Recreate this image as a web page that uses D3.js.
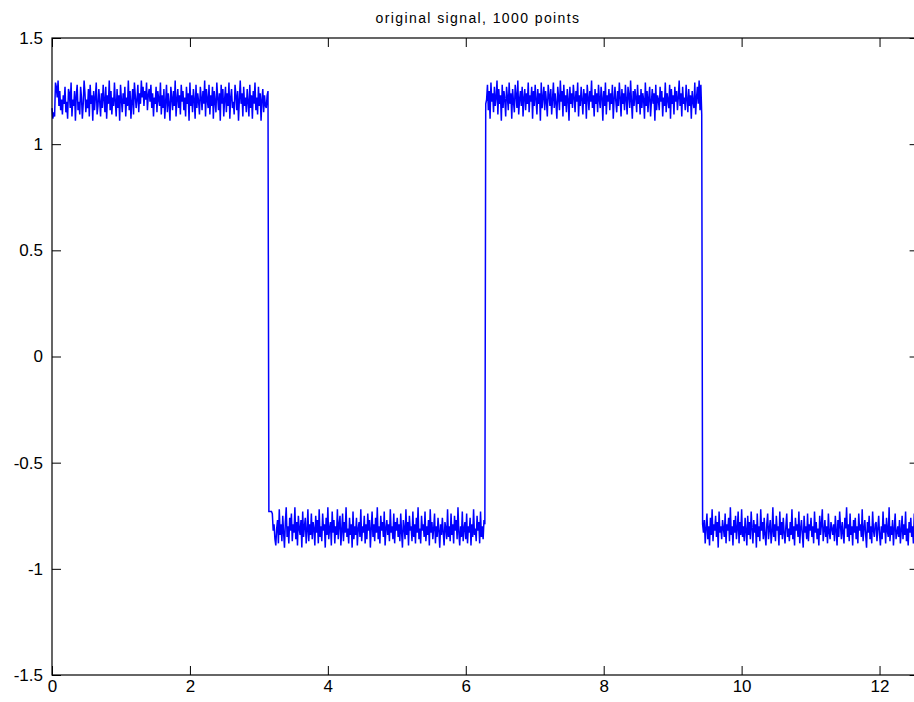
<!DOCTYPE html>
<html>
<head>
  <meta charset="utf-8">
  <title>original signal</title>
  <style>
    body { margin: 0; background: #fff; }
    .tick text { font-family: "Liberation Sans", Arial, sans-serif; font-size: 17px; fill: #000; }
    .tick line { stroke: #000; }
    .title { font-family: "Liberation Sans", Arial, sans-serif; font-size: 14px; letter-spacing: 1.4px; }
  </style>
</head>
<body>
  <svg width="914" height="702"></svg>
  <script src="https://cdnjs.cloudflare.com/ajax/libs/d3/7.8.5/d3.min.js"></script>
  <script>
    // 1000 samples over [0, 4*pi], four half periods of 250 samples each
    const xMax = 4 * Math.PI;

    const seg1 = [
      1.17,1.12,1.15,1.13,1.29,1.27,1.22,1.30,1.18,1.25,1.16,1.21,1.14,1.23,1.19,1.27,1.15,1.20,1.12,1.26,1.24,1.17,1.29,1.13,1.21,
      1.18,1.25,1.11,1.23,1.28,1.16,1.20,1.14,1.27,1.22,1.12,1.19,1.30,1.24,1.15,1.21,1.17,1.26,1.13,1.28,1.19,1.23,1.11,1.25,1.16,
      1.22,1.29,1.14,1.18,1.26,1.20,1.13,1.24,1.17,1.28,1.21,1.15,1.27,1.12,1.23,1.19,1.30,1.16,1.25,1.14,1.22,1.18,1.29,1.20,1.13,
      1.26,1.17,1.23,1.11,1.28,1.21,1.15,1.24,1.19,1.27,1.13,1.22,1.18,1.30,1.16,1.25,1.12,1.20,1.26,1.14,1.29,1.23,1.17,1.21,1.28,
      1.15,1.24,1.19,1.30,1.22,1.27,1.18,1.25,1.21,1.29,1.16,1.23,1.26,1.20,1.28,1.17,1.24,1.13,1.22,1.19,1.27,1.15,1.25,1.21,1.18,
      1.29,1.14,1.23,1.17,1.26,1.12,1.20,1.28,1.15,1.24,1.19,1.11,1.27,1.22,1.16,1.25,1.18,1.30,1.13,1.21,1.26,1.17,1.23,1.14,1.28,
      1.20,1.25,1.16,1.22,1.13,1.27,1.19,1.24,1.11,1.29,1.18,1.23,1.15,1.26,1.21,1.12,1.28,1.17,1.24,1.20,1.14,1.27,1.22,1.16,1.25,
      1.19,1.30,1.13,1.26,1.21,1.17,1.28,1.14,1.23,1.18,1.27,1.12,1.25,1.20,1.15,1.29,1.22,1.16,1.24,1.11,1.28,1.19,1.26,1.13,1.21,
      1.27,1.15,1.24,1.18,1.29,1.12,1.22,1.26,1.17,1.20,1.14,1.28,1.23,1.16,1.25,1.11,1.21,1.30,1.19,1.24,1.13,1.27,1.18,1.22,1.15,
      1.26,1.20,1.13,1.28,1.17,1.23,1.12,1.25,1.19,1.29,1.16,1.22,1.14,1.27,1.18,1.24,1.11,1.21,1.26,1.15,1.23,1.18,1.17,1.23,1.25
    ];
    const seg2 = [
      -0.73,-0.73,-0.73,-0.73,-0.74,-0.82,-0.79,-0.86,-0.89,-0.81,-0.77,-0.88,-0.72,-0.84,-0.79,-0.87,-0.75,-0.83,-0.90,-0.78,-0.71,-0.85,-0.80,-0.88,-0.76,
      -0.82,-0.74,-0.87,-0.79,-0.83,-0.71,-0.86,-0.78,-0.89,-0.75,-0.81,-0.84,-0.77,-0.90,-0.73,-0.85,-0.80,-0.76,-0.88,-0.82,-0.72,-0.87,-0.79,-0.84,-0.74,
      -0.86,-0.78,-0.81,-0.89,-0.75,-0.83,-0.77,-0.88,-0.72,-0.85,-0.80,-0.87,-0.74,-0.82,-0.79,-0.90,-0.76,-0.84,-0.71,-0.86,-0.81,-0.78,-0.89,-0.73,-0.83,
      -0.77,-0.88,-0.80,-0.84,-0.72,-0.86,-0.79,-0.75,-0.89,-0.82,-0.74,-0.87,-0.78,-0.83,-0.71,-0.85,-0.81,-0.88,-0.76,-0.84,-0.79,-0.90,-0.73,-0.86,-0.80,
      -0.84,-0.76,-0.89,-0.81,-0.78,-0.85,-0.72,-0.87,-0.80,-0.83,-0.75,-0.88,-0.79,-0.86,-0.74,-0.82,-0.77,-0.90,-0.81,-0.73,-0.85,-0.79,-0.87,-0.76,-0.83,
      -0.71,-0.86,-0.80,-0.88,-0.75,-0.82,-0.78,-0.85,-0.73,-0.89,-0.81,-0.77,-0.84,-0.79,-0.87,-0.72,-0.83,-0.80,-0.86,-0.74,-0.88,-0.78,-0.82,-0.76,-0.85,
      -0.79,-0.87,-0.74,-0.83,-0.90,-0.77,-0.81,-0.86,-0.72,-0.84,-0.78,-0.89,-0.75,-0.82,-0.80,-0.87,-0.73,-0.85,-0.79,-0.88,-0.76,-0.83,-0.71,-0.86,-0.81,
      -0.88,-0.75,-0.82,-0.79,-0.85,-0.73,-0.87,-0.80,-0.84,-0.77,-0.89,-0.72,-0.83,-0.78,-0.86,-0.81,-0.74,-0.88,-0.80,-0.85,-0.76,-0.82,-0.90,-0.79,-0.84,
      -0.76,-0.83,-0.89,-0.78,-0.81,-0.86,-0.72,-0.85,-0.80,-0.87,-0.74,-0.84,-0.79,-0.88,-0.75,-0.82,-0.77,-0.86,-0.71,-0.83,-0.89,-0.80,-0.85,-0.73,-0.87,
      -0.81,-0.78,-0.86,-0.74,-0.88,-0.80,-0.83,-0.76,-0.89,-0.79,-0.85,-0.72,-0.84,-0.81,-0.87,-0.75,-0.82,-0.78,-0.88,-0.73,-0.85,-0.80,-0.86,-0.77,-0.79
    ];
    const seg3 = [
      1.19,1.21,1.28,1.16,1.25,1.12,1.29,1.20,1.24,1.15,1.27,1.18,1.22,1.30,1.14,1.26,1.19,1.23,1.11,1.28,1.17,1.25,1.21,1.13,1.27,
      1.22,1.16,1.29,1.19,1.24,1.12,1.26,1.20,1.15,1.28,1.23,1.17,1.30,1.14,1.21,1.25,1.18,1.27,1.13,1.22,1.26,1.16,1.24,1.19,1.29,
      1.15,1.23,1.20,1.27,1.12,1.25,1.18,1.28,1.21,1.14,1.26,1.19,1.24,1.11,1.29,1.17,1.22,1.27,1.16,1.25,1.20,1.13,1.28,1.23,1.18,
      1.26,1.14,1.21,1.29,1.17,1.24,1.19,1.12,1.27,1.22,1.16,1.30,1.20,1.25,1.13,1.28,1.18,1.23,1.15,1.26,1.21,1.11,1.27,1.19,1.24,
      1.17,1.28,1.22,1.15,1.25,1.20,1.29,1.13,1.23,1.18,1.27,1.21,1.14,1.26,1.19,1.24,1.12,1.28,1.22,1.16,1.25,1.20,1.30,1.17,1.23,
      1.13,1.26,1.19,1.24,1.15,1.28,1.21,1.17,1.27,1.22,1.11,1.25,1.18,1.29,1.14,1.23,1.20,1.26,1.16,1.24,1.19,1.28,1.12,1.21,1.27,
      1.20,1.15,1.25,1.18,1.29,1.22,1.13,1.26,1.19,1.24,1.16,1.28,1.21,1.14,1.27,1.23,1.17,1.30,1.20,1.12,1.25,1.18,1.26,1.22,1.15,
      1.28,1.19,1.23,1.14,1.26,1.17,1.24,1.21,1.12,1.29,1.18,1.25,1.15,1.22,1.27,1.13,1.20,1.26,1.19,1.24,1.11,1.28,1.16,1.23,1.21,
      1.16,1.27,1.20,1.25,1.13,1.22,1.18,1.29,1.15,1.24,1.21,1.17,1.28,1.12,1.26,1.19,1.23,1.14,1.27,1.20,1.25,1.16,1.22,1.30,1.18,
      1.24,1.13,1.27,1.19,1.22,1.16,1.28,1.21,1.15,1.26,1.18,1.23,1.12,1.25,1.20,1.17,1.29,1.14,1.22,1.27,1.19,1.30,1.16,1.28,1.14
    ];
    const seg4 = [
      -0.79,-0.83,-0.77,-0.88,-0.81,-0.74,-0.86,-0.80,-0.89,-0.76,-0.84,-0.72,-0.87,-0.79,-0.82,-0.75,-0.85,-0.78,-0.90,-0.73,-0.83,-0.80,-0.86,-0.77,-0.81,
      -0.85,-0.74,-0.88,-0.79,-0.82,-0.76,-0.87,-0.71,-0.84,-0.80,-0.89,-0.77,-0.83,-0.75,-0.86,-0.81,-0.73,-0.88,-0.78,-0.84,-0.72,-0.85,-0.80,-0.87,-0.76,
      -0.82,-0.89,-0.75,-0.84,-0.78,-0.86,-0.73,-0.81,-0.88,-0.77,-0.83,-0.79,-0.90,-0.74,-0.85,-0.80,-0.87,-0.72,-0.82,-0.78,-0.86,-0.76,-0.84,-0.89,-0.79,
      -0.74,-0.86,-0.81,-0.77,-0.88,-0.83,-0.71,-0.85,-0.79,-0.87,-0.75,-0.82,-0.80,-0.89,-0.73,-0.84,-0.78,-0.86,-0.76,-0.83,-0.88,-0.80,-0.74,-0.85,-0.81,
      -0.87,-0.78,-0.84,-0.72,-0.86,-0.80,-0.89,-0.76,-0.82,-0.79,-0.85,-0.73,-0.88,-0.81,-0.77,-0.84,-0.90,-0.75,-0.83,-0.80,-0.86,-0.74,-0.87,-0.79,-0.82,
      -0.76,-0.85,-0.80,-0.88,-0.73,-0.83,-0.78,-0.86,-0.81,-0.89,-0.75,-0.84,-0.79,-0.72,-0.87,-0.82,-0.77,-0.85,-0.80,-0.88,-0.74,-0.83,-0.86,-0.78,-0.81,
      -0.84,-0.79,-0.87,-0.75,-0.82,-0.89,-0.77,-0.85,-0.73,-0.80,-0.86,-0.78,-0.83,-0.88,-0.76,-0.81,-0.71,-0.85,-0.79,-0.87,-0.74,-0.84,-0.80,-0.89,-0.77,
      -0.83,-0.76,-0.86,-0.80,-0.88,-0.74,-0.82,-0.79,-0.85,-0.72,-0.87,-0.81,-0.77,-0.84,-0.90,-0.78,-0.83,-0.75,-0.86,-0.80,-0.88,-0.73,-0.82,-0.85,-0.79,
      -0.78,-0.87,-0.81,-0.75,-0.84,-0.89,-0.80,-0.86,-0.73,-0.83,-0.79,-0.88,-0.76,-0.82,-0.85,-0.71,-0.87,-0.80,-0.84,-0.77,-0.89,-0.81,-0.74,-0.86,-0.83,
      -0.80,-0.85,-0.77,-0.88,-0.82,-0.75,-0.86,-0.79,-0.84,-0.73,-0.87,-0.81,-0.89,-0.78,-0.83,-0.76,-0.85,-0.80,-0.88,-0.74,-0.82,-0.86,-0.79,-0.84,-0.81
    ];

    const xTicks = [0, 2, 4, 6, 8, 10, 12];
    const yTicks = [-1.5, -1, -0.5, 0, 0.5, 1, 1.5];
    const titleText = "original signal, 1000 points";

    const signal = seg1.concat(seg2, seg3, seg4);
    const n = signal.length;
    const pts = signal.map((v, i) => ({ x: i * xMax / (n - 1), y: v }));

    const svg = d3.select("svg");
    const margin = { left: 52, top: 38, bottom: 27 };
    const plotW = 866.6;
    const height = +svg.attr("height");

    const x = d3.scaleLinear().domain([0, xMax]).range([margin.left, margin.left + plotW]);
    const y = d3.scaleLinear().domain([-1.5, 1.5]).range([height - margin.bottom, margin.top]);

    // signal
    const line = d3.line().x(d => x(d.x)).y(d => y(d.y));
    svg.append("path")
       .datum(pts)
       .attr("fill", "none")
       .attr("stroke", "#0000ff")
       .attr("stroke-width", 1.5)
       .attr("d", line);

    // plain hyphen for negatives, like the original
    const fmt = d => String(d);

    // axes, ticks point inward on all four sides
    const tk = 9;
    svg.append("g")
       .attr("transform", "translate(0," + y.range()[0] + ")")
       .call(d3.axisBottom(x).tickValues(xTicks).tickFormat(fmt).tickSizeInner(-tk).tickSizeOuter(0).tickPadding(5))
       .call(g => g.select(".domain").remove());
    svg.append("g")
       .attr("transform", "translate(0," + y.range()[1] + ")")
       .call(d3.axisTop(x).tickValues(xTicks).tickFormat("").tickSizeInner(-tk).tickSizeOuter(0))
       .call(g => g.select(".domain").remove());
    svg.append("g")
       .attr("transform", "translate(" + x.range()[0] + ",0)")
       .call(d3.axisLeft(y).tickValues(yTicks).tickFormat(fmt).tickSizeInner(-tk).tickSizeOuter(0).tickPadding(9))
       .call(g => g.select(".domain").remove());
    svg.append("g")
       .attr("transform", "translate(" + x.range()[1] + ",0)")
       .call(d3.axisRight(y).tickValues(yTicks).tickFormat("").tickSizeInner(-tk).tickSizeOuter(0))
       .call(g => g.select(".domain").remove());

    svg.selectAll(".tick text").attr("font-family", null).attr("font-size", null);

    svg.append("rect")
       .attr("x", x.range()[0])
       .attr("y", y.range()[1])
       .attr("width", x.range()[1] - x.range()[0])
       .attr("height", y.range()[0] - y.range()[1])
       .attr("fill", "none")
       .attr("stroke", "#000")
       .attr("stroke-width", 1.2);

    svg.append("text")
       .attr("class", "title")
       .attr("x", 478)
       .attr("y", 23)
       .attr("text-anchor", "middle")
       .text(titleText);
  </script>
</body>
</html>
